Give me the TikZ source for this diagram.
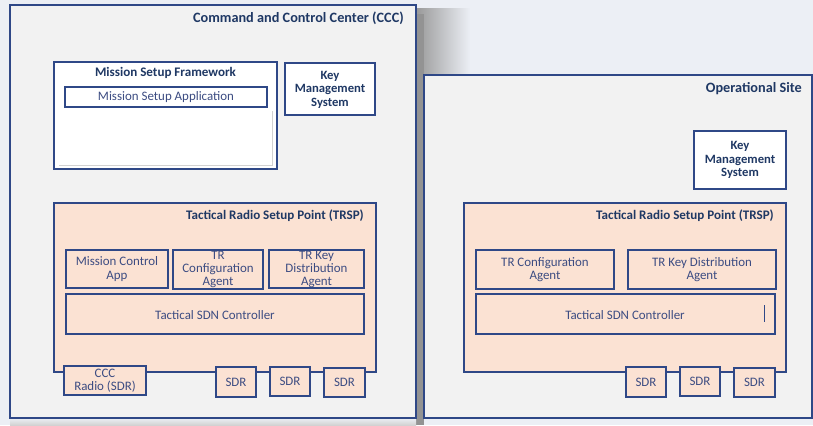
\documentclass[tikz,border=0pt]{standalone}
\usepackage{fontspec}
\setmainfont{Carlito}
\usetikzlibrary{fit,shadows}
\definecolor{navyline}{RGB}{47,72,135}
\definecolor{navytext}{RGB}{31,56,100}
\definecolor{softtext}{RGB}{60,76,130}
\definecolor{sitegray}{RGB}{242,242,242}
\definecolor{peach}{RGB}{251,226,211}
\definecolor{backdrop}{RGB}{236,239,245}

\begin{document}
\begin{tikzpicture}[x=0.75pt, y=-0.75pt,
    site/.style={draw=navyline, line width=1.2pt, fill=sitegray, inner sep=0pt},
    trsp/.style={draw=navyline, line width=1.1pt, fill=peach, inner sep=0pt,
        drop shadow={opacity=0.3, shadow xshift=0.7pt, shadow yshift=-0.7pt}},
    part/.style={trsp},
    kms/.style={draw=navyline, line width=1.1pt, fill=white, inner sep=0pt,
        drop shadow={opacity=0.3, shadow xshift=0.7pt, shadow yshift=-0.7pt}},
    parttext/.style={align=center, text=softtext, inner sep=0pt, font=\fontsize{9.7}{10}\selectfont},
    kmstext/.style={align=center, text=navytext, inner sep=0pt, font=\bfseries\fontsize{9.5}{10.2}\selectfont},
    bigtitle/.style={text=navytext, font=\bfseries\fontsize{10.7}{12}\selectfont, inner sep=0pt},
    midtitle/.style={text=navytext, font=\bfseries\fontsize{9.8}{11}\selectfont, inner sep=0pt}]
    \useasboundingbox (0,0) rectangle (813,425);
    \fill[backdrop] (0,0) rectangle (813,425);

    % Schatten zwischen den Standorten
    \shade[left color=gray!80, right color=backdrop] (416,8) rectangle (470,75);
    \fill[gray!85] (416,14) rectangle (424,425);
    \shade[top color=backdrop, bottom color=gray!35] (10,418) rectangle (416,425);

    % Command and Control Center
    \node[site, fit={(10,5) (416,418)}] (ccc) {};
    \node[bigtitle, anchor=east] (ccctitle) at (404,18) {Command and Control Center (CCC)};

    % Mission Setup Framework
    \node[kms, fit={(54,62) (277,169)}] (msf) {};
    \node[midtitle] (msftitle) at (165.5,73) {Mission Setup Framework};
    \node[kms, fit={(65,87) (267,107)}] (msa) {};
    \node[parttext] (msatext) at (166,97.5) {Mission Setup Application};
    \node[fill=white, inner sep=0pt, fit={(58,110) (272,165)},
        drop shadow={opacity=0.35, shadow xshift=0.8pt, shadow yshift=-0.8pt}] (msfpane) {};

    \node[kms, fit={(285,63) (375,115)}] (ccckms) {};
    \node[kmstext] (ccckmstext) at (330,89.5) {Key\\Management\\System};

    % TRSP im CCC
    \node[trsp, fit={(54,203) (376,372)}] (ccctrsp) {};
    \node[midtitle, anchor=east] (ccctrsptitle) at (364,216) {Tactical Radio Setup Point (TRSP)};
    \node[part, fit={(66,250) (168,288)}] (mca) {};
    \node[parttext] (mcatext) at (117,269) {Mission Control\\App};
    \node[part, fit={(173,250) (263,289)}] (ccccfg) {};
    \node[parttext] (ccccfgtext) at (218,269.5) {TR\\Configuration\\Agent};
    \node[part, fit={(269,250) (364,288)}] (ccckda) {};
    \node[parttext] (ccckdatext) at (316.5,269.5) {TR Key\\Distribution\\Agent};
    \node[part, fit={(66,294) (364,334)}] (cccsdn) {};
    \node[parttext] (cccsdntext) at (215,315) {Tactical SDN Controller};

    % Funkgeraete CCC
    \node[part, fit={(64,366) (146,395)}] (cccradio) {};
    \node[parttext] (cccradiotext) at (105,380.5) {CCC\\Radio (SDR)};
    \node[part, fit={(216,367) (256,397)}] (cccsdra) {};
    \node[parttext] at (cccsdra) {SDR};
    \node[part, fit={(270,367) (310,396)}] (cccsdrb) {};
    \node[parttext] at (cccsdrb) {SDR};
    \node[part, fit={(324,368) (365,397)}] (cccsdrc) {};
    \node[parttext] at (cccsdrc) {SDR};

    % Operational Site
    \node[site, fit={(424,75) (812,418)}] (ops) {};
    \node[bigtitle, anchor=east] (opstitle) at (802,88.5) {Operational Site};

    \node[kms, fit={(694,131) (786,189)}] (opskms) {};
    \node[kmstext] (opskmstext) at (740,160) {Key\\Management\\System};

    % TRSP am Einsatzort
    \node[trsp, fit={(464,203) (786,372)}] (opstrsp) {};
    \node[midtitle, anchor=east] (opstrsptitle) at (774,216) {Tactical Radio Setup Point (TRSP)};
    \node[part, fit={(476,250) (614,289)}] (opscfg) {};
    \node[parttext] (opscfgtext) at (545,269.5) {TR Configuration\\Agent};
    \node[part, fit={(628,250) (776,289)}] (opskda) {};
    \node[parttext] (opskdatext) at (702,269.5) {TR Key Distribution\\Agent};
    \node[part, fit={(476,294) (775,334)}] (opssdn) {};
    \node[parttext] (opssdntext) at (625,315) {Tactical SDN Controller};
    \draw[navyline, line width=0.6pt] (764,305) -- (764,322);

    % Funkgeraete Einsatzort
    \node[part, fit={(626,367) (666,397)}] (opssdra) {};
    \node[parttext] at (opssdra) {SDR};
    \node[part, fit={(680,367) (720,396)}] (opssdrb) {};
    \node[parttext] at (opssdrb) {SDR};
    \node[part, fit={(734,368) (775,397)}] (opssdrc) {};
    \node[parttext] at (opssdrc) {SDR};
\end{tikzpicture}
\end{document}
